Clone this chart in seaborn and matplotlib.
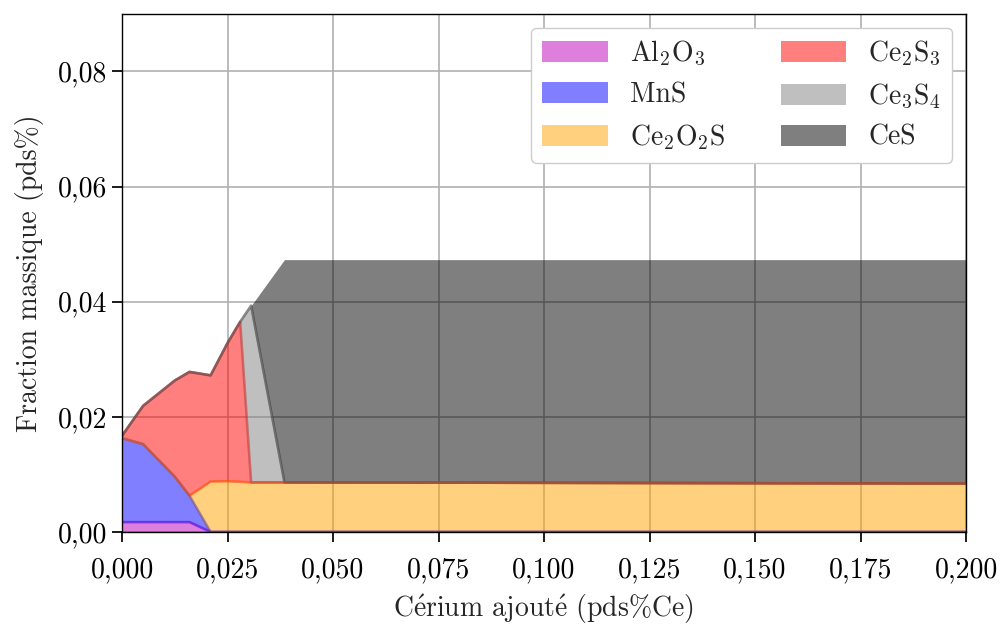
import numpy as np
import pandas as pd
import seaborn as sns
import matplotlib.pyplot as plt
from matplotlib.patches import Patch
from matplotlib.ticker import FuncFormatter, MultipleLocator

# cerium added (wt%)
ce_added = [0.0, 0.005, 0.0125, 0.016, 0.021, 0.025, 0.028, 0.0306, 0.0385, 0.2]

# mass fraction of each phase (wt%), stacked bottom -> top
al2o3 = [0.0017, 0.0017, 0.0017, 0.0017, 0, 0, 0, 0, 0, 0]
mns = [0.0146, 0.01355, 0.0079, 0.0046, 0, 0, 0, 0, 0, 0]
ce2o2s = [0, 0, 0, 0, 0.00875, 0.0088, 0.0087, 0.0086, 0.0086, 0.0084]
ce2s3 = [0.0004, 0.00665, 0.0167, 0.0215, 0.01845, 0.024, 0.0278, 0, 0, 0]
ce3s4 = [0, 0, 0, 0, 0, 0, 0, 0.0307, 0, 0]
ces = [0, 0, 0, 0, 0, 0, 0, 0, 0.0387, 0.0389]

phases = ["Al$_2$O$_3$", "MnS", "Ce$_2$O$_2$S", "Ce$_2$S$_3$", "Ce$_3$S$_4$", "CeS"]
colors = ["#bf00bf", "#0000ff", "#ffa500", "#ff0000", "#808080", "#000000"]

sns.set_theme(style="whitegrid")
plt.rcParams.update({
    "font.family": ["cmr10", "DejaVu Serif"],
    "mathtext.fontset": "cm",
    "axes.unicode_minus": False,
    "axes.formatter.use_mathtext": True,
    "axes.edgecolor": "black",
    "axes.linewidth": 1.0,
    "grid.color": "#b0b0b0",
    "grid.linewidth": 1.2,
    "xtick.bottom": True,
    "ytick.left": True,
    "xtick.major.size": 7,
    "ytick.major.size": 7,
    "xtick.color": "black",
    "ytick.color": "black",
})

fig = plt.figure(figsize=(10, 6.28), dpi=100)
ax = fig.add_axes([0.122, 0.153, 0.844, 0.825])

layers = np.array([al2o3, mns, ce2o2s, ce2s3, ce3s4, ces])
ax.stackplot(ce_added, layers, colors=colors, alpha=0.5, linewidth=0)

cum = np.cumsum(layers, axis=0)
bottoms = np.vstack([np.zeros(len(ce_added)), cum[:-1]])
for i in range(1, len(phases)):
    df = pd.DataFrame({"x": ce_added, "y": bottoms[i]})
    sns.lineplot(data=df, x="x", y="y", color=colors[i], alpha=0.45,
                 linewidth=1.8, ax=ax, legend=False)
for i in range(0, len(phases) - 1):
    df = pd.DataFrame({"x": ce_added, "y": cum[i]})
    sns.lineplot(data=df, x="x", y="y", color=colors[i], alpha=0.3,
                 linewidth=1.8, ax=ax, legend=False)

ax.set_xlim(0, 0.2)
ax.set_ylim(0, 0.09)
ax.xaxis.set_major_locator(MultipleLocator(0.025))
ax.yaxis.set_major_locator(MultipleLocator(0.02))
ax.xaxis.set_major_formatter(FuncFormatter(lambda v, p: f"{v:.3f}".replace(".", ",")))
ax.yaxis.set_major_formatter(FuncFormatter(lambda v, p: f"{v:.2f}".replace(".", ",")))
ax.tick_params(labelsize=20)
ax.tick_params(axis="x", pad=11)
ax.set_axisbelow(True)

ax.set_xlabel(r"C$\mathrm{\acute{e}}$rium ajout$\mathrm{\acute{e}}$ (pds%Ce)", fontsize=20, labelpad=6)
ax.set_ylabel("Fraction massique (pds%)", fontsize=20, labelpad=10)

handles = [Patch(facecolor=c, alpha=0.5, edgecolor="none") for c in colors]
ax.legend(handles, phases, loc="upper right", ncol=2, fontsize=20,
          handlelength=2.35, handleheight=0.8, handletextpad=0.8,
          columnspacing=2.0, framealpha=1, edgecolor="#cccccc", fancybox=True)

fig.savefig("out.png", dpi=100)
